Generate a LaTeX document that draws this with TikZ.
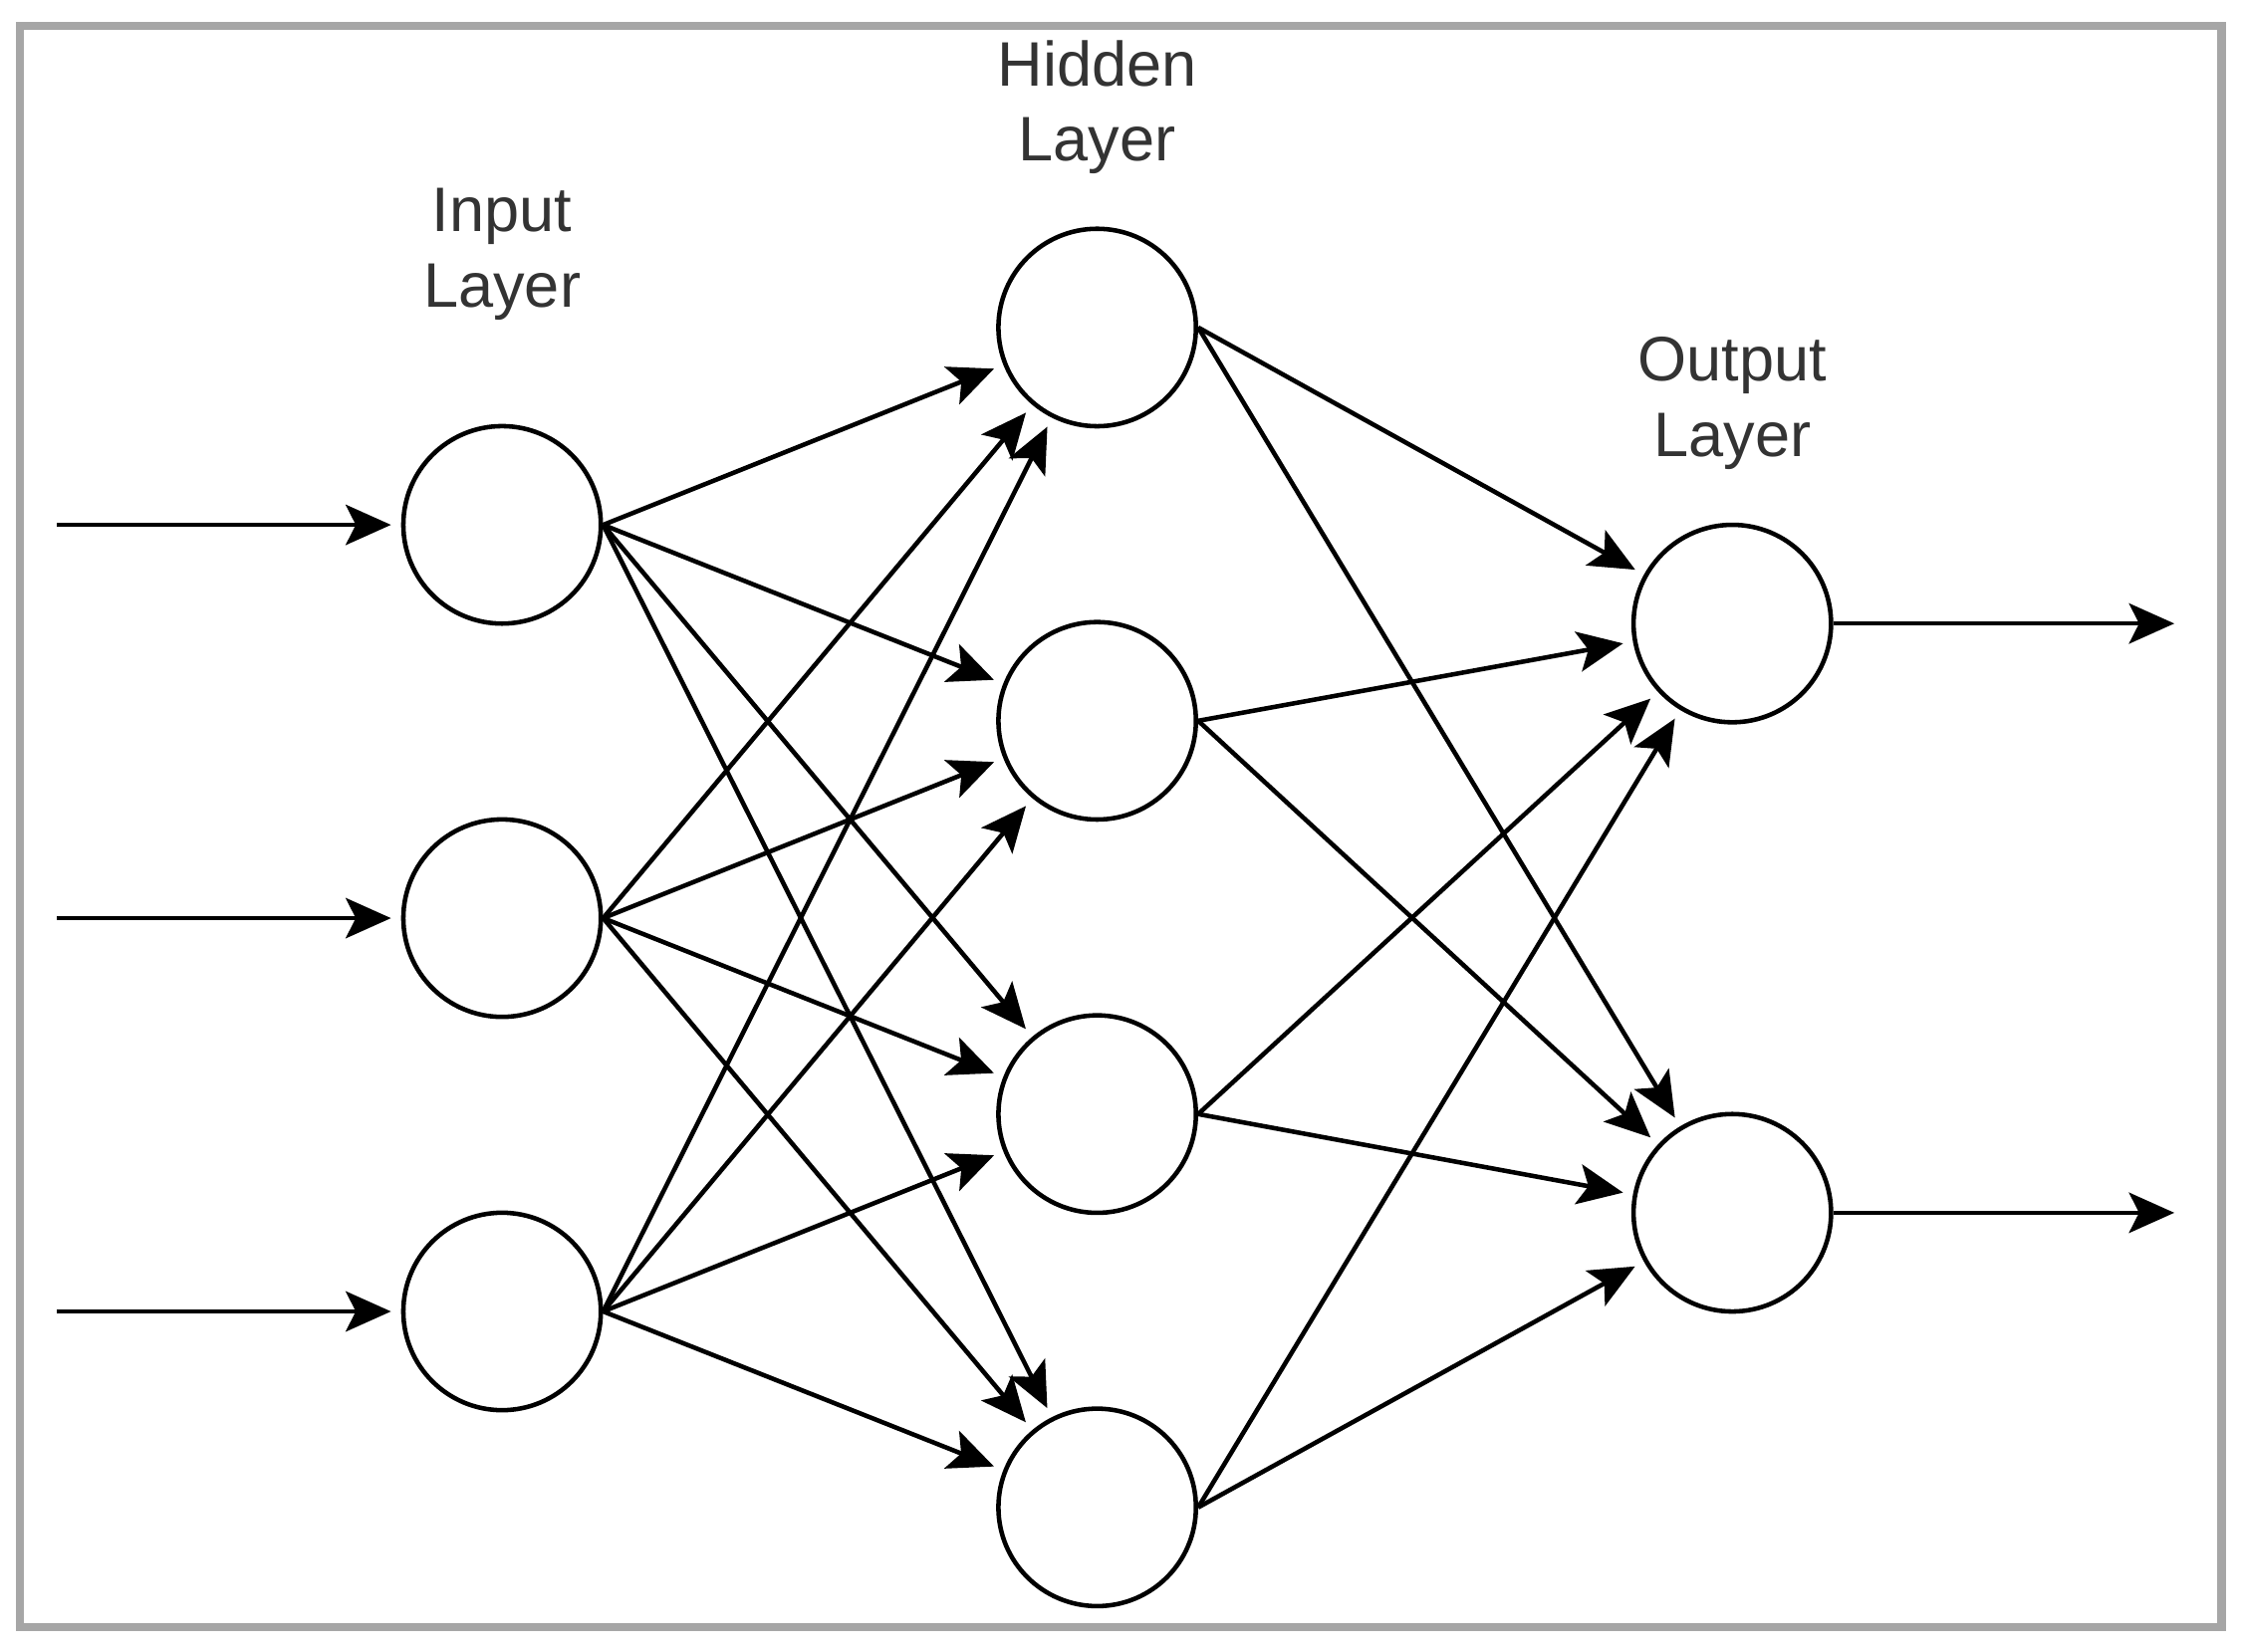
\documentclass[tikz,border=0pt]{standalone}
\usepackage{fontspec}
\setmainfont{Liberation Sans}
\usetikzlibrary{arrows.meta}
\usetikzlibrary{positioning}

\begin{document}
\begin{tikzpicture} [x=0.01cm, y=-0.01cm, line width=0.9pt,
    neuron/.style = {draw, circle, minimum size=1.38cm, inner sep=0pt},
    link/.style = {-{Stealth[length=9pt, width=8pt, inset=2pt]}, shorten >=2pt},
    layername/.style = {align=center, text=black!80, font=\fontsize{12.5}{15}\selectfont}]

\useasboundingbox (0,0) rectangle (1568,1155);

% frame
\draw [gray!70, line width=1.6pt] (14,18) rectangle (1553,1138);

% neurons
\foreach \i/\y in {1/367, 2/642, 3/917}
    \node [neuron] (in\i) at (351,\y) {};
\foreach \j/\y in {1/229, 2/504, 3/779, 4/1054}
    \node [neuron] (hid\j) at (767,\y) {};
\foreach \k/\y in {1/436, 2/848}
    \node [neuron] (out\k) at (1211,\y) {};

% layer names
\node [layername] (inlabel) at (351,178) {Input\\Layer};
\node [layername] (hidlabel) at (767,75) {Hidden\\Layer};
\node [layername] (outlabel) at (1211,282) {Output\\Layer};

% inputs
\foreach \i/\y in {1/367, 2/642, 3/917} {
    \coordinate (src\i) at (40,\y);
    \draw [link] (src\i) -- (in\i);
}

% input to hidden
\foreach \i in {1,2,3}
    \foreach \j in {1,2,3,4}
        \draw [link] (in\i.east) -- (hid\j);

% hidden to output
\foreach \j in {1,2,3,4}
    \foreach \k in {1,2}
        \draw [link] (hid\j.east) -- (out\k);

% outputs
\foreach \k/\y in {1/436, 2/848} {
    \coordinate (dst\k) at (1520,\y);
    \draw [link, shorten >=0pt] (out\k) -- (dst\k);
}

\end{tikzpicture}
\end{document}
